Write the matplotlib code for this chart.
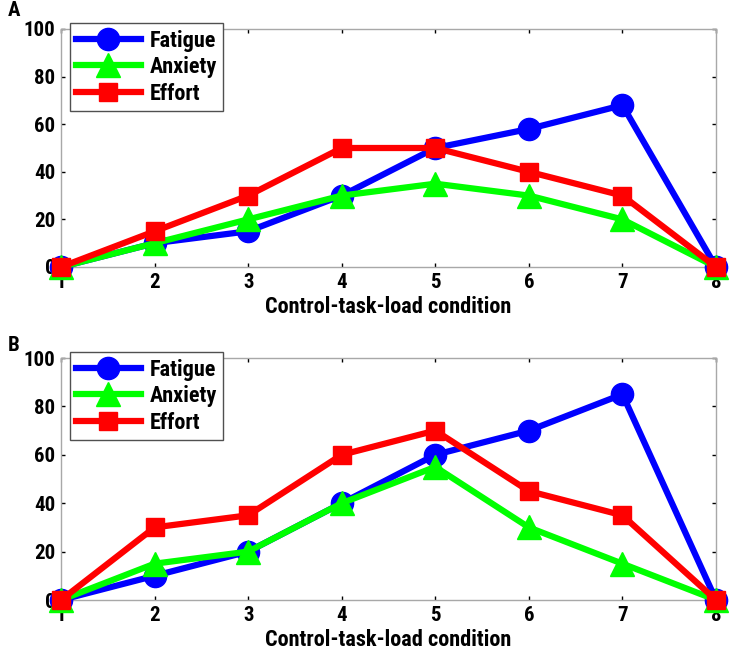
import matplotlib
matplotlib.use("Agg")
import matplotlib.pyplot as plt
from matplotlib import font_manager

conditions = [1, 2, 3, 4, 5, 6, 7, 8]
yticks = [0, 20, 40, 60, 80, 100]

fatigue_a = [0, 10, 15, 30, 50, 58, 68, 0]
anxiety_a = [0, 10, 20, 30, 35, 30, 20, 0]
effort_a = [0, 15, 30, 50, 50, 40, 30, 0]

fatigue_b = [0, 10, 20, 40, 60, 70, 85, 0]
anxiety_b = [0, 15, 20, 40, 55, 30, 15, 0]
effort_b = [0, 30, 35, 60, 70, 45, 35, 0]

names = set(f.name for f in font_manager.fontManager.ttflist)
cands = ["Liberation Sans Narrow", "Roboto Condensed", "Open Sans Condensed"]
fam = next((c for c in cands if c in names), "Liberation Sans")
plt.rcParams['font.family'] = [fam, 'DejaVu Sans']

fig = plt.figure(figsize=(7.33, 6.52), dpi=100)

def panel(rect, fat, anx, eff, letter, ly):
    ax = fig.add_axes(rect)
    ax.plot(conditions, fat, color='#0000ff', lw=4.5, marker='o', ms=16, label='Fatigue', clip_on=False, zorder=3)
    ax.plot(conditions, anx, color='#00ff00', lw=4.5, marker='^', ms=17, label='Anxiety', clip_on=False, zorder=4)
    ax.plot(conditions, eff, color='#ff0000', lw=4.5, marker='s', ms=13, label='Effort', clip_on=False, zorder=5)
    ax.set_xlim(1, 8)
    ax.set_ylim(0, 100)
    ax.set_xticks(conditions)
    ax.set_yticks(yticks)
    ax.tick_params(direction='in', length=3, width=1, top=True, right=True,
                   labelsize=15, pad=4, color='black')
    for lab in ax.get_xticklabels() + ax.get_yticklabels():
        lab.set_fontweight('bold')
    for s in ax.spines.values():
        s.set_color('#a8a8a8')
        s.set_linewidth(1)
    ax.set_xlabel('Control-task-load condition', fontsize=16, fontweight='bold', labelpad=3)
    leg = ax.legend(loc='upper left', bbox_to_anchor=(0.013, 1.025),
                    prop={'weight': 'bold', 'size': 16, 'family': [fam, 'DejaVu Sans']},
                    fancybox=False, framealpha=1, edgecolor='#505050',
                    handlelength=2.9, borderpad=0.3, labelspacing=0.2, handletextpad=0.4,
                    borderaxespad=0)
    leg.get_frame().set_linewidth(1)
    fig.text(8 / 733, 1 - ly / 652, letter, fontsize=15, fontweight='bold', va='center', ha='left')
    return ax

panel([61 / 733, 1 - 267 / 652, 655 / 733, 238 / 652], fatigue_a, anxiety_a, effort_a, 'A', 11)
panel([61 / 733, 1 - 600 / 652, 655 / 733, 242 / 652], fatigue_b, anxiety_b, effort_b, 'B', 345)

fig.savefig('out.png', dpi=100)
